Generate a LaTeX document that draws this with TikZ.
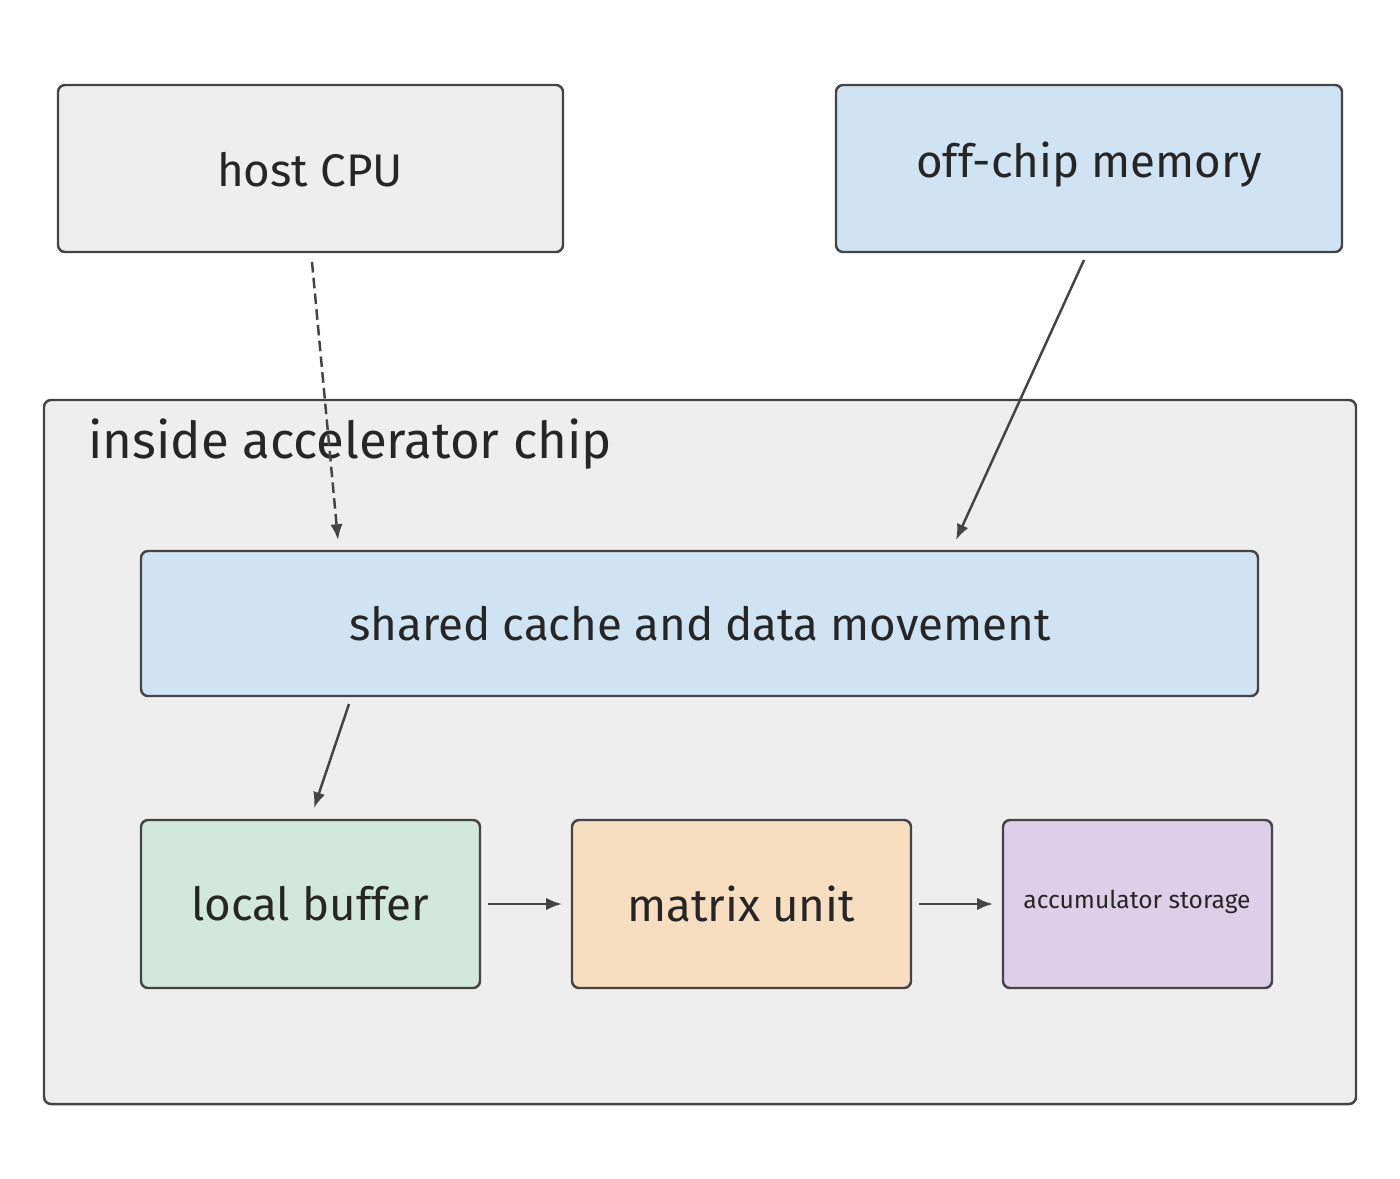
\documentclass[tikz,border=0pt]{standalone}
\usepackage{fontspec}
\setmainfont{Fira Sans}
\usetikzlibrary{arrows.meta}
\definecolor{edge}{HTML}{444444}
\definecolor{grayf}{HTML}{EEEEEE}
\definecolor{bluef}{HTML}{CFE3F2}
\definecolor{greenf}{HTML}{D2E8DE}
\definecolor{orangef}{HTML}{F8DEC0}
\definecolor{purplef}{HTML}{DDCFE8}
\tikzset{
 box/.style={draw=edge,line width=1.4pt,rounded corners=4pt},
 lbl/.style={text=black!85,font=\fontsize{26}{30}\selectfont},
 conn/.style={draw=edge,line width=1.4pt,-{Latex[length=9pt,width=7pt]}}
}
\begin{document}
\begin{tikzpicture}[x=0.02cm,y=-0.02cm]
\useasboundingbox (0,0) rectangle (1400,1178);
\fill[white] (0,0) rectangle (1400,1178);
\draw[box,fill=grayf] (58,85) rectangle (563,252);
\node[lbl] (cpu) at (310,170) {host CPU};
\draw[box,fill=bluef] (836,85) rectangle (1342,252);
\node[lbl] (mem) at (1089,165) {off-chip memory};
\draw[box,fill=grayf] (44,400) rectangle (1356,1104);
\node[lbl,anchor=west,font=\fontsize{29}{33}\selectfont] (chip) at (82,444) {inside accelerator chip};
\draw[box,fill=bluef] (141,551) rectangle (1258,696);
\node[lbl] (cache) at (700,624) {shared cache and data movement};
\draw[box,fill=greenf] (141,820) rectangle (480,988);
\node[lbl] (buf) at (310,904) {local buffer};
\draw[box,fill=orangef] (572,820) rectangle (911,988);
\node[lbl] (mx) at (741,904) {matrix unit};
\draw[box,fill=purplef] (1003,820) rectangle (1272,988);
\node[lbl,font=\fontsize{14}{16}\selectfont] (acc) at (1137,902) {accumulator storage};
\coordinate (a1) at (312,262); \coordinate (a2) at (338,540);
\coordinate (b1) at (1084,260); \coordinate (b2) at (956,540);
\coordinate (c1) at (349,704); \coordinate (c2) at (314,808);
\coordinate (d1) at (488,904); \coordinate (d2) at (562,904);
\coordinate (e1) at (919,904); \coordinate (e2) at (993,904);
\draw[conn,dashed,dash pattern=on 6pt off 3pt] (a1) -- (a2);
\draw[conn] (b1) -- (b2);
\draw[conn] (c1) -- (c2);
\draw[conn] (d1) -- (d2);
\draw[conn] (e1) -- (e2);
\end{tikzpicture}
\end{document}
